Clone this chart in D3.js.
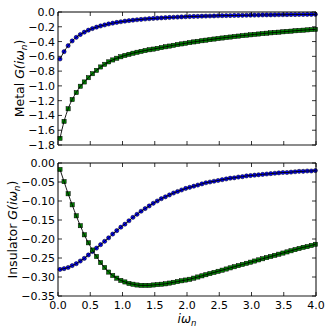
<!DOCTYPE html>
<html><head><meta charset="utf-8">
<script src="https://cdn.jsdelivr.net/npm/d3@7"></script>
<style>body{margin:0;background:#fff}svg{display:block}</style>
</head><body>
<script>
// Matsubara frequencies (x values)
const omega = [0.031,0.094,0.157,0.220,0.283,0.346,0.408,0.471,0.534,0.597,0.660,0.723,0.785,0.848,0.911,0.974,1.037,1.100,1.162,1.225,1.288,1.351,1.414,1.477,1.539,1.602,1.665,1.728,1.791,1.854,1.916,1.979,2.042,2.105,2.168,2.231,2.293,2.356,2.419,2.482,2.545,2.608,2.670,2.733,2.796,2.859,2.922,2.985,3.047,3.110,3.173,3.236,3.299,3.362,3.424,3.487,3.550,3.613,3.676,3.738,3.801,3.864,3.927,3.990];
// Metal panel
const metalBlue = [-0.636,-0.537,-0.456,-0.392,-0.343,-0.305,-0.273,-0.246,-0.224,-0.205,-0.189,-0.175,-0.162,-0.151,-0.141,-0.132,-0.124,-0.117,-0.111,-0.105,-0.100,-0.095,-0.091,-0.087,-0.083,-0.080,-0.077,-0.074,-0.071,-0.069,-0.066,-0.064,-0.062,-0.060,-0.059,-0.057,-0.055,-0.054,-0.053,-0.051,-0.050,-0.049,-0.048,-0.047,-0.046,-0.045,-0.044,-0.043,-0.042,-0.041,-0.040,-0.039,-0.039,-0.038,-0.037,-0.037,-0.036,-0.035,-0.035,-0.034,-0.034,-0.033,-0.033,-0.032];
const metalGreen = [-1.71,-1.48,-1.31,-1.185,-1.09,-1.005,-0.947,-0.889,-0.835,-0.79,-0.744,-0.708,-0.675,-0.649,-0.626,-0.606,-0.588,-0.573,-0.558,-0.545,-0.533,-0.522,-0.511,-0.502,-0.492,-0.482,-0.471,-0.461,-0.451,-0.441,-0.432,-0.423,-0.414,-0.405,-0.397,-0.389,-0.381,-0.374,-0.366,-0.359,-0.352,-0.345,-0.339,-0.332,-0.326,-0.320,-0.314,-0.309,-0.303,-0.298,-0.292,-0.287,-0.282,-0.277,-0.273,-0.268,-0.263,-0.259,-0.254,-0.250,-0.246,-0.242,-0.238,-0.235];
// Insulator panel
const insBlue = [-0.280,-0.278,-0.275,-0.270,-0.265,-0.258,-0.251,-0.242,-0.233,-0.224,-0.215,-0.206,-0.197,-0.187,-0.178,-0.169,-0.161,-0.152,-0.143,-0.135,-0.127,-0.120,-0.113,-0.106,-0.100,-0.094,-0.089,-0.084,-0.079,-0.075,-0.071,-0.067,-0.064,-0.061,-0.058,-0.055,-0.052,-0.050,-0.048,-0.046,-0.044,-0.042,-0.040,-0.039,-0.037,-0.036,-0.034,-0.033,-0.032,-0.031,-0.030,-0.029,-0.028,-0.027,-0.026,-0.025,-0.025,-0.024,-0.023,-0.022,-0.022,-0.021,-0.021,-0.020];
const insGreen = [-0.017,-0.049,-0.081,-0.110,-0.139,-0.165,-0.189,-0.210,-0.229,-0.246,-0.262,-0.275,-0.287,-0.296,-0.303,-0.309,-0.313,-0.317,-0.319,-0.321,-0.322,-0.322,-0.322,-0.321,-0.320,-0.319,-0.318,-0.316,-0.314,-0.312,-0.310,-0.308,-0.306,-0.303,-0.300,-0.297,-0.294,-0.291,-0.288,-0.285,-0.282,-0.279,-0.276,-0.273,-0.270,-0.267,-0.264,-0.261,-0.258,-0.255,-0.252,-0.249,-0.246,-0.243,-0.240,-0.237,-0.234,-0.231,-0.228,-0.225,-0.222,-0.220,-0.217,-0.214];
// Ticks
const xTicks = [0,0.5,1.0,1.5,2.0,2.5,3.0,3.5,4.0];
const metalYTicks = [0.0,-0.2,-0.4,-0.6,-0.8,-1.0,-1.2,-1.4,-1.6,-1.8];
const insYTicks = [0.00,-0.05,-0.10,-0.15,-0.20,-0.25,-0.30,-0.35];

const W=332,H=332;
const svg=d3.select("body").append("svg").attr("width",W).attr("height",H);
const L=58,R=316;
const x=d3.scaleLinear().domain([0,4]).range([L,R]);
const FONT="DejaVu Sans, sans-serif";

function panel(top,bottom,yDomain,yTicks,yFmt,series,showX,labelWord,labelX){
  const y=d3.scaleLinear().domain(yDomain).range([bottom,top]);
  const g=svg.append("g");
  const clipId="c"+top;
  svg.append("clipPath").attr("id",clipId).append("rect").attr("x",L-4).attr("y",top-4).attr("width",R-L+8).attr("height",bottom-top+8);
  const pg=g.append("g").attr("clip-path",`url(#${clipId})`);
  series.forEach(s=>{
    const pts=omega.map((w,i)=>[w,s.vals[i]]);
    const mk=pg.append("g");
    if(s.shape==="circle"){
      mk.selectAll("circle").data(pts).join("circle")
        .attr("cx",d=>x(d[0])).attr("cy",d=>y(d[1])).attr("r",2.1)
        .attr("fill","#0000ff").attr("stroke","#000").attr("stroke-width",0.5);
    } else {
      mk.selectAll("rect").data(pts).join("rect")
        .attr("x",d=>x(d[0])-2.1).attr("y",d=>y(d[1])-2.1).attr("width",4.2).attr("height",4.2)
        .attr("fill","#008000").attr("stroke","#000").attr("stroke-width",0.5);
    }
    pg.append("path").datum(pts)
      .attr("d",d3.line().x(d=>x(d[0])).y(d=>y(d[1])).curve(d3.curveMonotoneX))
      .attr("fill","none").attr("stroke","#000").attr("stroke-width",0.9);
  });
  // frame
  g.append("path").attr("d",`M${L},${bottom}V${top}H${R}V${bottom}`)
    .attr("fill","none").attr("stroke","#000").attr("stroke-width",1);
  g.append("line").attr("x1",L).attr("x2",R).attr("y1",bottom).attr("y2",bottom)
    .attr("stroke","#666").attr("stroke-width",1.6);
  // ticks inward on all sides
  const tk=g.append("g").attr("stroke","#000").attr("stroke-width",0.8);
  xTicks.forEach(t=>{
    tk.append("line").attr("x1",x(t)).attr("x2",x(t)).attr("y1",bottom).attr("y2",bottom-4);
    tk.append("line").attr("x1",x(t)).attr("x2",x(t)).attr("y1",top).attr("y2",top+4);
  });
  yTicks.forEach(t=>{
    tk.append("line").attr("x1",L).attr("x2",L+4).attr("y1",y(t)).attr("y2",y(t));
    tk.append("line").attr("x1",R).attr("x2",R-4).attr("y1",y(t)).attr("y2",y(t));
  });
  const fmt=v=>(v<0?"\u2212":"")+Math.abs(v).toFixed(yFmt);
  g.append("g").selectAll("text").data(yTicks).join("text")
    .attr("x",L-3).attr("y",d=>y(d)).attr("dy","0.36em").attr("text-anchor","end")
    .attr("font-family",FONT).attr("font-size",11).attr("fill","#000").text(fmt);
  if(showX){
    g.append("g").selectAll("text").data(xTicks).join("text")
      .attr("x",d=>x(d)).attr("y",bottom+13).attr("text-anchor","middle")
      .attr("font-family",FONT).attr("font-size",11).attr("fill","#000").text(d=>d.toFixed(1));
  }
  const cy=(top+bottom)/2;
  const lab=g.append("text").attr("transform",`translate(${labelX},${cy}) rotate(-90)`)
    .attr("text-anchor","middle").attr("font-family",FONT).attr("font-size",12.5).attr("fill","#000");
  lab.append("tspan").text(labelWord+" ");
  lab.append("tspan").attr("font-style","italic").text("G(i\u03c9");
  lab.append("tspan").attr("font-style","italic").attr("font-size",9).attr("dy",2.5).text("n");
  lab.append("tspan").attr("dy",-2.5).text(")");
}

panel(12,145,[-1.8,0],metalYTicks,1,[{vals:metalBlue,shape:"circle"},{vals:metalGreen,shape:"square"}],false,"Metal",24);
panel(163,296,[-0.35,0],insYTicks,2,[{vals:insBlue,shape:"circle"},{vals:insGreen,shape:"square"}],true,"Insulator",17);

const xl=svg.append("text").attr("x",(L+R)/2).attr("y",323).attr("text-anchor","middle")
  .attr("font-family",FONT).attr("font-size",12).attr("font-style","italic").attr("fill","#000");
xl.append("tspan").text("i\u03c9");
xl.append("tspan").attr("font-size",8.5).attr("dy",2.5).text("n");
</script>
</body></html>
